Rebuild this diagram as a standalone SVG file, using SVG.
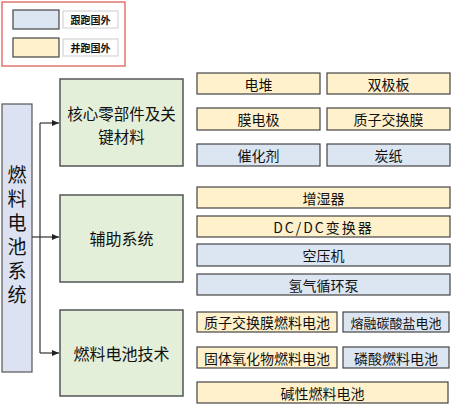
<svg xmlns="http://www.w3.org/2000/svg" width="453" height="406" viewBox="0 0 453 406">
<defs>
<marker id="ah" markerWidth="8" markerHeight="8" refX="7" refY="4" orient="auto" markerUnits="userSpaceOnUse">
<path d="M0,1 L7,4 L0,7 Z" fill="#222"/>
</marker>
<style>
text{font-family:"Noto Sans CJK SC","Liberation Sans",sans-serif;fill:#111;text-anchor:middle;dominant-baseline:central}
.y{fill:#fff1cc;stroke:#444;stroke-width:1.2}
.b{fill:#dce6f2;stroke:#444;stroke-width:1.2}
.g{fill:#e3efd9;stroke:#555;stroke-width:1.5}
.s{font-size:14px}
.c{font-size:16px}
.l{font-size:10px;font-weight:bold}
.cn{fill:none;stroke:#333;stroke-width:1.2}
</style>
</defs>
<rect width="453" height="406" fill="#fff"/>
<g id="legend">
<rect x="2" y="2" width="123" height="64" fill="#fff" stroke="#d9534f" stroke-width="1.2"/>
<rect x="13" y="10" width="46" height="19" fill="#dce6f2" stroke="#444" stroke-width="1.2"/>
<rect x="63" y="11" width="55" height="17" fill="#fff" stroke="#ccc"/>
<text class="l" x="90.5" y="19.5">跟跑国外</text>
<rect x="13" y="38" width="46" height="19" fill="#fff1cc" stroke="#444" stroke-width="1.2"/>
<rect x="63" y="39" width="55" height="17" fill="#fff" stroke="#ccc"/>
<text class="l" x="90.5" y="47.5">并跑国外</text>
</g>
<g id="root">
<rect x="2" y="104" width="30" height="268" fill="#dde2f3" stroke="#555" stroke-width="1.2"/>
<text x="17" y="237" font-size="19" writing-mode="vertical-rl" letter-spacing="5" style="dominant-baseline:auto">燃料电池系统</text>
</g>
<g id="connectors">
<path class="cn" d="M32,237 H40"/>
<path class="cn" d="M40,123 V353"/>
<path class="cn" d="M40,123 H59" marker-end="url(#ah)"/>
<path class="cn" d="M40,237 H59" marker-end="url(#ah)"/>
<path class="cn" d="M40,353 H59" marker-end="url(#ah)"/>
</g>
<g id="cat1">
<rect class="g" x="60" y="79" width="123" height="87"/>
<text font-size="15.5"><tspan x="121.5" y="113">核心零部件及关</tspan><tspan x="121.5" y="135.5">键材料</tspan></text>
</g>
<g id="cat2">
<rect class="g" x="60" y="195" width="123" height="87"/>
<text class="c" x="121.5" y="238">辅助系统</text>
</g>
<g id="cat3">
<rect class="g" x="60" y="310" width="123" height="86"/>
<text class="c" x="121.5" y="353">燃料电池技术</text>
</g>
<g id="n-dianDui"><rect class="y" x="197" y="73" width="123" height="21"/><text class="s" x="258.5" y="83.5">电堆</text></g>
<g id="n-shuangjiban"><rect class="y" x="327" y="73" width="123" height="21"/><text class="s" x="388.5" y="83.5">双极板</text></g>
<g id="n-modianji"><rect class="y" x="197" y="108" width="123" height="22"/><text class="s" x="258.5" y="119">膜电极</text></g>
<g id="n-zhizimo"><rect class="y" x="327" y="108" width="123" height="22"/><text class="s" x="388.5" y="119">质子交换膜</text></g>
<g id="n-cuihuaji"><rect class="b" x="197" y="144" width="123" height="22"/><text class="s" x="258.5" y="155">催化剂</text></g>
<g id="n-tanzhi"><rect class="b" x="327" y="144" width="123" height="22"/><text class="s" x="388.5" y="155">炭纸</text></g>
<g id="n-zengshiqi"><rect class="y" x="197" y="187" width="253" height="21"/><text class="s" x="323.5" y="197.5">增湿器</text></g>
<g id="n-dcdc"><rect class="y" x="197" y="216" width="253" height="21"/><text class="s" x="323.5" y="226.5" letter-spacing="2">DC/DC变换器</text></g>
<g id="n-kongyaji"><rect class="b" x="197" y="244" width="253" height="22"/><text class="s" x="323.5" y="255">空压机</text></g>
<g id="n-qingqi"><rect class="b" x="197" y="274" width="253" height="21"/><text class="s" x="323.5" y="284.5">氢气循环泵</text></g>
<g id="n-pemfc"><rect class="y" x="197" y="312" width="140" height="20"/><text class="s" x="267" y="322">质子交换膜燃料电池</text></g>
<g id="n-mcfc"><rect class="b" x="343" y="312" width="106" height="20"/><text x="396" y="322" font-size="13">熔融碳酸盐电池</text></g>
<g id="n-sofc"><rect class="y" x="197" y="347" width="140" height="21"/><text class="s" x="267" y="357.5">固体氧化物燃料电池</text></g>
<g id="n-pafc"><rect class="b" x="343" y="347" width="106" height="21"/><text class="s" x="396" y="357.5">磷酸燃料电池</text></g>
<g id="n-afc"><rect class="y" x="197" y="382" width="251" height="21"/><text class="s" x="322.5" y="392.5">碱性燃料电池</text></g>
</svg>
